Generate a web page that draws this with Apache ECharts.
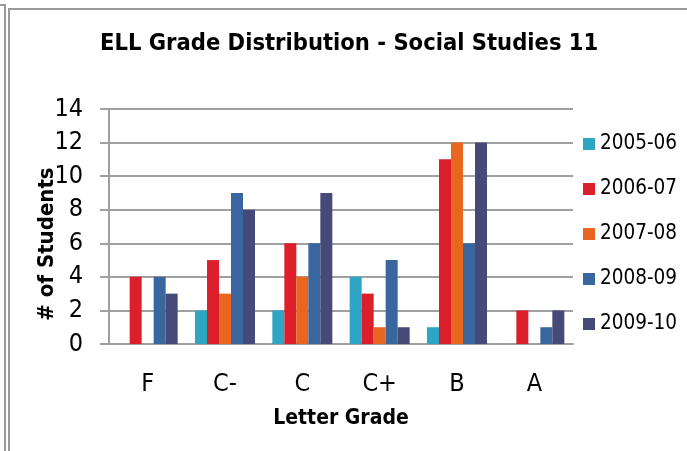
<!DOCTYPE html>
<html>
<head>
<meta charset="utf-8">
<script src="https://cdn.jsdelivr.net/npm/echarts@6/dist/echarts.min.js"></script>
<style>
  html, body { margin: 0; padding: 0; background: #fff; }
  #chart { width: 687px; height: 451px; }
</style>
</head>
<body>
<div id="chart"></div>
<script>
const grades = ['F', 'C-', 'C', 'C+', 'B', 'A']
const years = ['2005-06', '2006-07', '2007-08', '2008-09', '2009-10']
const y2005 = [0, 2, 2, 4, 1, 0]
const y2006 = [4, 5, 6, 3, 11, 2]
const y2007 = [0, 3, 4, 1, 12, 0]
const y2008 = [4, 9, 6, 5, 6, 1]
const y2009 = [3, 8, 9, 1, 12, 2]
const colors = ['#2EA5C3', '#DC1F2B', '#E8661F', '#3A66A0', '#454A78']

const font = 'DejaVu Sans Condensed, DejaVu Sans, sans-serif'
const gridGray = '#a0a0a0'

const chart = echarts.init(document.getElementById('chart'))

const seriesData = [y2005, y2006, y2007, y2008, y2009]

const option = {
  backgroundColor: '#fff',
  animation: false,
  title: {
    text: 'ELL Grade Distribution - Social Studies 11',
    left: 100,
    top: 32,
    padding: 0,
    textStyle: { fontFamily: font, fontWeight: 'bold', fontSize: 23.5, color: '#000' },
  },
  legend: {
    orient: 'vertical',
    left: 583,
    top: 133,
    padding: 0,
    itemWidth: 12,
    itemHeight: 12,
    itemGap: 23,
    icon: 'rect',
    textStyle: { fontFamily: font, fontSize: 20.5, color: '#000', lineHeight: 22 },
  },
  grid: { left: 109, right: 114, top: 109, bottom: 107 },
  xAxis: {
    type: 'category',
    data: grades,
    name: 'Letter Grade',
    nameLocation: 'middle',
    nameGap: 64,
    nameTextStyle: { fontFamily: font, fontWeight: 'bold', fontSize: 21, color: '#000' },
    axisLine: { lineStyle: { color: gridGray, width: 2 } },
    axisTick: { show: false },
    axisLabel: { fontFamily: font, fontSize: 25, color: '#000', margin: 28 },
  },
  yAxis: {
    type: 'value',
    min: 0,
    max: 14,
    interval: 2,
    axisLine: { show: true, lineStyle: { color: gridGray, width: 2 } },
    axisTick: { show: true, length: 9, lineStyle: { color: gridGray, width: 2 } },
    axisLabel: { fontFamily: font, fontSize: 25, color: '#000', margin: 26 },
    splitLine: { lineStyle: { color: gridGray, width: 2 } },
  },
  series: years.map((name, i) => ({
    name,
    type: 'bar',
    data: seriesData[i],
    barWidth: 12,
    barGap: '0%',
    itemStyle: { color: colors[i] },
  })),
  graphic: [
    // y axis title sits a bit below the plot middle, like the original
    {
      type: 'text',
      x: 47,
      y: 244,
      rotation: Math.PI / 2,
      z: 10,
      style: {
        text: '# of Students',
        fontFamily: font,
        fontWeight: 'bold',
        fontSize: 22,
        fill: '#000',
        textAlign: 'center',
        textVerticalAlign: 'middle',
      },
    },
    { type: 'polyline', shape: { points: [[0, 5], [5, 5], [5, 451]] }, style: { stroke: '#999', lineWidth: 2, fill: null } },
    { type: 'polyline', shape: { points: [[9, 451], [9, 9], [687, 9]] }, style: { stroke: '#999', lineWidth: 2, fill: null } },
  ],
}

chart.setOption(option)
</script>
</body>
</html>
